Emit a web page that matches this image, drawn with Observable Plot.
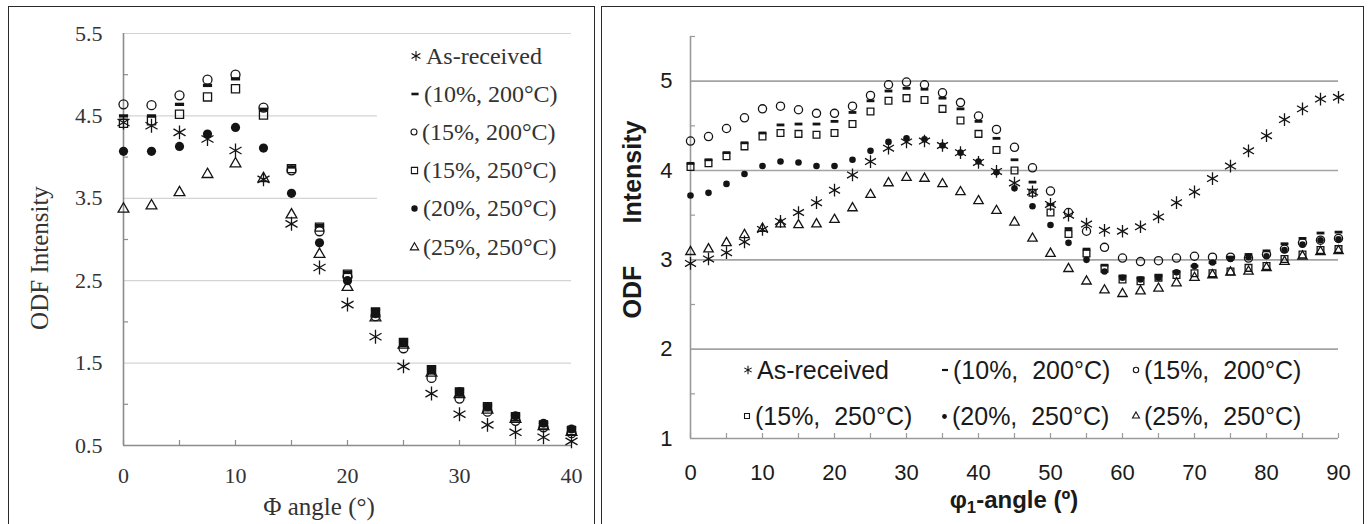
<!DOCTYPE html>
<html>
<head>
<meta charset="utf-8">
<script src="https://cdn.jsdelivr.net/npm/d3@7"></script>
<script src="https://cdn.jsdelivr.net/npm/@observablehq/plot@0.6"></script>
<style>
  body { margin: 0; background: #fff; }
  #root { position: relative; width: 1370px; height: 524px; overflow: hidden; background: #fff; }
  .frame { position: absolute; border: 1.5px solid #2a2a2a; box-sizing: border-box; }
  .abs { position: absolute; white-space: pre; }
  .serif { font-family: "Liberation Serif", "DejaVu Serif", serif; color: #333; }
  .sans { font-family: "Liberation Sans Narrow", "Liberation Sans", Arial, sans-serif; color: #1a1a1a; }
  .center { transform: translate(-50%, -50%); }
  .rot { transform: translate(-50%, -50%) rotate(-90deg); }
  .item { position: absolute; display: flex; align-items: center; white-space: pre; }
  .item svg { overflow: visible; }
</style>
</head>
<body>
<div id="root"></div>
<script>
// ---------------- data ----------------
const seriesNames = ["As-received", "(10%, 200°C)", "(15%, 200°C)", "(15%, 250°C)", "(20%, 250°C)", "(25%, 250°C)"];
const seriesNamesRight = ["As-received", "(10%,  200°C)", "(15%,  200°C)", "(15%,  250°C)", "(20%,  250°C)", "(25%,  250°C)"];

// Left panel: ODF intensity vs Phi angle
const phiAngles = [0, 2.5, 5, 7.5, 10, 12.5, 15, 17.5, 20, 22.5, 25, 27.5, 30, 32.5, 35, 37.5, 40];
const phiAsReceived = [4.42, 4.38, 4.30, 4.22, 4.08, 3.73, 3.19, 2.66, 2.21, 1.82, 1.46, 1.13, 0.88, 0.75, 0.66, 0.60, 0.55];
const phi10_200     = [4.50, 4.50, 4.64, 4.87, 4.95, 4.58, 3.88, 3.17, 2.60, 2.15, 1.78, 1.45, 1.18, 0.99, 0.87, 0.78, 0.72];
const phi15_200     = [4.64, 4.63, 4.75, 4.94, 5.00, 4.60, 3.84, 3.10, 2.55, 2.07, 1.68, 1.32, 1.07, 0.91, 0.80, 0.72, 0.65];
const phi15_250     = [4.41, 4.44, 4.52, 4.73, 4.83, 4.51, 3.86, 3.15, 2.58, 2.12, 1.75, 1.42, 1.15, 0.97, 0.85, 0.75, 0.68];
const phi20_250     = [4.07, 4.07, 4.13, 4.28, 4.36, 4.11, 3.56, 2.96, 2.50, 2.10, 1.75, 1.42, 1.15, 0.97, 0.86, 0.77, 0.70];
const phi25_250     = [3.37, 3.41, 3.57, 3.79, 3.92, 3.74, 3.30, 2.82, 2.42, 2.05, 1.72, 1.38, 1.12, 0.93, 0.82, 0.73, 0.66];

// Right panel: ODF intensity vs phi1 angle
const phi1Angles = [0, 2.5, 5, 7.5, 10, 12.5, 15, 17.5, 20, 22.5, 25, 27.5, 30, 32.5, 35, 37.5, 40, 42.5, 45,
                    47.5, 50, 52.5, 55, 57.5, 60, 62.5, 65, 67.5, 70, 72.5, 75, 77.5, 80, 82.5, 85, 87.5, 90];
const phi1AsReceived = [2.96, 3.01, 3.08, 3.20, 3.34, 3.43, 3.53, 3.64, 3.78, 3.95, 4.10, 4.25, 4.32, 4.33, 4.28, 4.20, 4.09, 3.99, 3.86,
                        3.76, 3.62, 3.50, 3.40, 3.33, 3.32, 3.37, 3.48, 3.64, 3.76, 3.91, 4.05, 4.22, 4.39, 4.57, 4.69, 4.80, 4.82];
const phi1_10_200 = [4.08, 4.12, 4.20, 4.31, 4.42, 4.51, 4.52, 4.52, 4.55, 4.65, 4.78, 4.89, 4.92, 4.91, 4.81, 4.69, 4.55, 4.36, 4.12,
                     3.87, 3.62, 3.35, 3.12, 2.94, 2.82, 2.80, 2.82, 2.87, 2.93, 2.97, 3.03, 3.06, 3.10, 3.18, 3.24, 3.30, 3.31];
const phi1_15_200 = [4.33, 4.38, 4.47, 4.59, 4.69, 4.72, 4.68, 4.64, 4.64, 4.72, 4.84, 4.96, 4.99, 4.96, 4.87, 4.76, 4.61, 4.46, 4.26,
                     4.03, 3.77, 3.53, 3.32, 3.14, 3.02, 2.98, 2.99, 3.02, 3.04, 3.03, 3.03, 3.02, 3.06, 3.12, 3.19, 3.22, 3.24];
const phi1_15_250 = [4.04, 4.08, 4.16, 4.27, 4.38, 4.42, 4.41, 4.40, 4.42, 4.52, 4.66, 4.78, 4.81, 4.79, 4.69, 4.56, 4.41, 4.23, 4.00,
                     3.75, 3.53, 3.29, 3.07, 2.90, 2.78, 2.76, 2.80, 2.83, 2.85, 2.85, 2.87, 2.91, 2.93, 3.01, 3.06, 3.11, 3.12];
const phi1_20_250 = [3.72, 3.75, 3.85, 3.96, 4.05, 4.10, 4.09, 4.05, 4.05, 4.12, 4.22, 4.32, 4.36, 4.35, 4.28, 4.20, 4.10, 3.98, 3.80,
                     3.60, 3.39, 3.19, 3.00, 2.87, 2.80, 2.78, 2.80, 2.86, 2.93, 2.97, 3.01, 3.03, 3.04, 3.11, 3.17, 3.22, 3.23];
const phi1_25_250 = [3.09, 3.12, 3.19, 3.28, 3.35, 3.40, 3.39, 3.40, 3.45, 3.58, 3.73, 3.86, 3.92, 3.91, 3.85, 3.76, 3.66, 3.55, 3.42,
                     3.24, 3.07, 2.90, 2.76, 2.66, 2.62, 2.65, 2.68, 2.74, 2.80, 2.83, 2.86, 2.87, 2.91, 2.98, 3.04, 3.09, 3.10];

// Ticks
const leftYTicks = [0.5, 1.5, 2.5, 3.5, 4.5, 5.5];
const leftYMinor = [1, 2, 3, 4, 5];
const leftXTicks = [0, 10, 20, 30, 40];
const leftXMinor = [0, 5, 10, 15, 20, 25, 30, 35, 40];
const rightYTicks = [1, 2, 3, 4, 5];
const rightYGrid = [2, 3, 4, 5];
const rightYMinor = [1.5, 2.5, 3.5, 4.5, 5.5];
const rightXTicks = [0, 10, 20, 30, 40, 50, 60, 70, 80, 90];
const rightXMinor = [0, 5, 10, 15, 20, 25, 30, 35, 40, 45, 50, 55, 60, 65, 70, 75, 80, 85, 90];

// ---------------- styles ----------------
const INK = "#141414";
const dashSymbol = {
  draw(ctx, size) {
    const r = Math.sqrt(size / Math.PI), h = r * 0.36;
    ctx.moveTo(-r, -h); ctx.lineTo(r, -h); ctx.lineTo(r, h); ctx.lineTo(-r, h); ctx.closePath();
  }
};
const symbols = [d3.symbolAsterisk, dashSymbol, d3.symbolCircle, d3.symbolSquare, d3.symbolCircle, d3.symbolTriangle];
const fills   = ["none", INK, "none", "none", INK, "none"];
const strokes = [INK, "none", INK, INK, "none", INK];
const leftR   = [6.6, 4.6, 4.5, 4.6, 4.6, 4.0];
const rightR  = [6.0, 3.9, 4.1, 3.8, 3.3, 3.5];

const leftSeries = [phiAsReceived, phi10_200, phi15_200, phi15_250, phi20_250, phi25_250];
const rightSeries = [phi1AsReceived, phi1_10_200, phi1_15_200, phi1_15_250, phi1_20_250, phi1_25_250];

const toRows = (xs, ys) => xs.map((x, i) => ({x, y: ys[i]}));

const root = document.getElementById("root");
function addDiv(cls, html, css) {
  const d = document.createElement("div");
  d.className = cls;
  d.innerHTML = html;
  Object.assign(d.style, css);
  root.appendChild(d);
  return d;
}

// frames
addDiv("frame", "", {left: "8px", top: "6px", width: "587px", height: "540px"});
addDiv("frame", "", {left: "601px", top: "6px", width: "763px", height: "540px"});

// ---------------- left plot ----------------
const leftPlot = Plot.plot({
  width: 597, height: 524,
  marginLeft: 123, marginRight: 26, marginTop: 33, marginBottom: 79,
  x: {domain: [0, 40]},
  y: {domain: [0.5, 5.5]},
  style: {fontFamily: "'Liberation Serif', 'DejaVu Serif', serif", fontSize: "22px", color: "#333", background: "transparent", overflow: "visible"},
  marks: [
    Plot.gridY(leftYTicks, {stroke: "#d4d4d4", strokeOpacity: 1, strokeWidth: 1.2}),
    Plot.ruleX([0], {stroke: "#8c8c8c", strokeWidth: 1.6}),
    Plot.ruleY([0.5], {stroke: "#8c8c8c", strokeWidth: 1.6}),
    Plot.axisY(leftYTicks, {tickSize: 0, tickPadding: 21, tickFormat: d3.format(".1f"), label: null}),
    Plot.axisY(leftYMinor, {tickSize: -5, fill: "none", stroke: "#8c8c8c", strokeWidth: 1.2, label: null}),
    Plot.axisX(leftXTicks, {tickSize: 0, tickPadding: 22, tickFormat: d3.format("d"), label: null}),
    Plot.axisX(leftXMinor, {tickSize: -5, fill: "none", stroke: "#8c8c8c", strokeWidth: 1.2, label: null}),
    ...leftSeries.map((ys, i) => Plot.dot(toRows(phiAngles, ys), {
      x: "x", y: "y", symbol: symbols[i], r: leftR[i], fill: fills[i], stroke: strokes[i], strokeWidth: 1.3
    }))
  ]
});
Object.assign(leftPlot.style, {position: "absolute", left: "0px", top: "0px", maxWidth: "none"});
root.appendChild(leftPlot);

// ---------------- right plot ----------------
const rightPlot = Plot.plot({
  width: 773, height: 524,
  marginLeft: 93, marginRight: 32, marginTop: 36, marginBottom: 86,
  x: {domain: [0, 90]},
  y: {domain: [1, 5.5]},
  style: {fontFamily: "'Liberation Sans Narrow', 'Liberation Sans', Arial, sans-serif", fontSize: "22px", color: "#1a1a1a", background: "transparent", overflow: "visible"},
  marks: [
    Plot.gridY(rightYGrid, {stroke: "#a3a3a3", strokeOpacity: 1, strokeWidth: 1.6}),
    Plot.ruleX([0], {stroke: "#9a9a9a", strokeWidth: 1.6}),
    Plot.ruleY([1], {stroke: "#9a9a9a", strokeWidth: 1.6}),
    Plot.axisY(rightYTicks, {tickSize: 0, tickPadding: 18, tickFormat: d3.format("d"), label: null}),
    Plot.axisY(rightYMinor, {tickSize: -5, fill: "none", stroke: "#9a9a9a", strokeWidth: 1.2, label: null}),
    Plot.axisX(rightXTicks, {tickSize: 0, tickPadding: 26, tickFormat: d3.format("d"), label: null}),
    Plot.axisX(rightXMinor, {tickSize: -5, fill: "none", stroke: "#9a9a9a", strokeWidth: 1.2, label: null}),
    ...rightSeries.map((ys, i) => Plot.dot(toRows(phi1Angles, ys), {
      x: "x", y: "y", symbol: symbols[i], r: rightR[i], fill: fills[i], stroke: strokes[i], strokeWidth: 1.3
    }))
  ]
});
Object.assign(rightPlot.style, {position: "absolute", left: "597px", top: "0px", maxWidth: "none"});
root.appendChild(rightPlot);

// ---------------- legends ----------------
function symbolSvg(i, r) {
  const size = r * r * Math.PI;
  const d = d3.symbol(symbols[i], size)();
  const s = Math.ceil(r * 2 + 4);
  return `<svg width="${s}" height="${s}" viewBox="${-s/2} ${-s/2} ${s} ${s}"><path d="${d}" fill="${fills[i]}" stroke="${strokes[i]}" stroke-width="1.1"/></svg>`;
}

// left legend (white box over the gridlines)
addDiv("abs", "", {left: "377px", top: "40px", width: "205px", height: "228px", background: "#fff"});
const leftLegR = [4.8, 3.6, 3.0, 3.5, 3.2, 3.1];
seriesNames.forEach((name, i) => {
  addDiv("item serif", `${symbolSvg(i, leftLegR[i])}<span style="margin-left:3px">${name}</span>`,
    {left: "409px", top: (56 + i * 38.2) + "px", fontSize: "24px", transform: "translateY(-50%)", height: "30px"});
});

// right legend (3 columns x 2 rows)
const colX = [742, 940, 1131];
const rowY = [370, 416];
const rightLegR = [4.0, 3.0, 2.7, 2.8, 2.4, 2.6];
seriesNamesRight.forEach((name, i) => {
  addDiv("item sans", `${symbolSvg(i, rightLegR[i])}<span style="margin-left:3px">${name}</span>`,
    {left: colX[i % 3] + "px", top: rowY[Math.floor(i / 3)] + "px", fontSize: "25px", transform: "translateY(-50%)", height: "30px"});
});

// ---------------- axis titles ----------------
addDiv("abs serif center", "Φ angle (°)", {left: "319px", top: "507px", fontSize: "25px"});
addDiv("abs serif rot", "ODF Intensity", {left: "40px", top: "258px", fontSize: "25px"});
addDiv("abs sans center", "φ<sub style='font-size:0.7em;vertical-align:-0.25em'>1</sub>-angle (º)", {left: "1014px", top: "502px", fontSize: "24px", fontWeight: "bold"});
addDiv("abs sans rot", "Intensity", {left: "632px", top: "172px", fontSize: "25px", fontWeight: "bold"});
addDiv("abs sans rot", "ODF", {left: "632px", top: "292px", fontSize: "25px", fontWeight: "bold"});
</script>
</body>
</html>
